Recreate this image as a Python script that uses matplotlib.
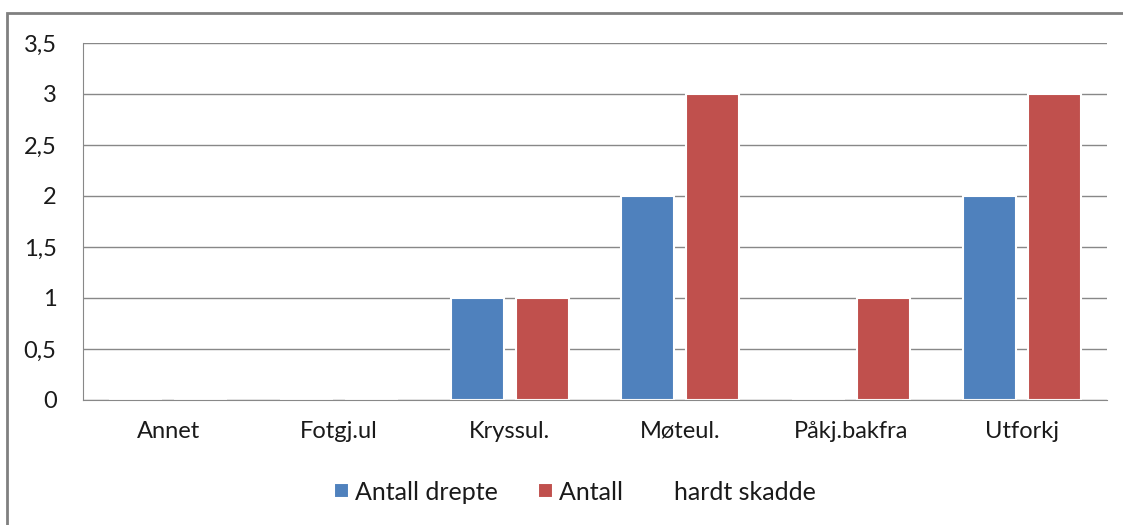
import matplotlib.pyplot as plt
import numpy as np
from matplotlib.patches import Rectangle

# Ulykkestyper og antall
kategorier = ["Annet", "Fotgj.ul", "Kryssul.", "Møteul.", "Påkj.bakfra", "Utforkj"]
drepte = [0, 0, 1, 2, 0, 2]
hardt_skadde = [0, 0, 1, 3, 1, 3]
y_ticks = [0, 0.5, 1, 1.5, 2, 2.5, 3, 3.5]
y_labels = ["0", "0,5", "1", "1,5", "2", "2,5", "3", "3,5"]

BLAA = "#4F81BD"
ROED = "#C0504D"
TEKST = "#1a1a1a"

plt.rcParams['font.family'] = ['Lato', 'DejaVu Sans']

fig = plt.figure(figsize=(11.23, 5.25), dpi=100)
ax = fig.add_axes([83/1123, 1 - 400/525, (1107-83)/1123, (400-43)/525])

x = np.arange(len(kategorier))
bredde = 0.31
ax.bar(x - 0.19, drepte, bredde, color=BLAA, edgecolor="white", linewidth=1.5,
       label="Antall drepte", zorder=3)
ax.bar(x + 0.19, hardt_skadde, bredde, color=ROED, edgecolor="white", linewidth=1.5,
       label="Antall        hardt skadde", zorder=3)

ax.set_xlim(-0.5, len(kategorier) - 0.5)
ax.set_ylim(0, 3.5)
ax.set_yticks(y_ticks)
ax.set_yticklabels(y_labels, fontsize=17, color=TEKST)
ax.set_xticks(x)
ax.set_xticklabels(kategorier, fontsize=17, color=TEKST)
ax.tick_params(axis="both", length=0)
ax.tick_params(axis="y", pad=19)
ax.tick_params(axis="x", pad=15)
ax.grid(axis="y", color="#888888", linewidth=1, zorder=0)
for side in ["top", "right"]:
    ax.spines[side].set_visible(False)
for side in ["left", "bottom"]:
    ax.spines[side].set_color("#888888")
    ax.spines[side].set_zorder(5)

leg = fig.legend(loc="center", bbox_to_anchor=(575/1123, 1 - 492/525), ncol=2,
                 frameon=False, fontsize=18, handlelength=0.6, handleheight=0.52,
                 handletextpad=0.25, columnspacing=1.6)
for t in leg.get_texts():
    t.set_color(TEKST)

# ramme rundt diagrammet
fig.patches.append(Rectangle((7/1123, -0.05), 1.1, 1 - 13/525 + 0.05,
                             transform=fig.transFigure, fill=False,
                             edgecolor="#808080", linewidth=2))

fig.savefig("out.png", dpi=100, facecolor="white")
